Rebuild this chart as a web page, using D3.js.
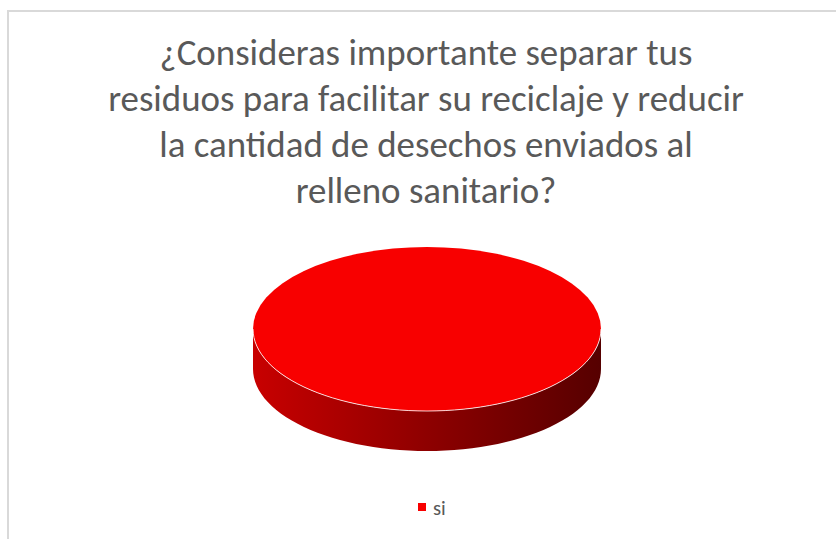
<!DOCTYPE html>
<html>
<head>
<meta charset="utf-8">
<script src="https://cdn.jsdelivr.net/npm/d3@7"></script>
<style>
  body { margin: 0; background: #fff; }
  svg { display: block; }
</style>
</head>
<body>
<div id="chart"></div>
<script>
// Chart data
var categories = ["si"];
var values = [100];
var colors = ["#f80000"];
var titleLines = [
  "¿Consideras importante separar tus",
  "residuos para facilitar su reciclaje y reducir",
  "la cantidad de desechos enviados al",
  "relleno sanitario?"
];

// SVG area
var svgWidth = 836;
var svgHeight = 539;

var svg = d3.select("#chart").append("svg")
  .attr("width", svgWidth)
  .attr("height", svgHeight);

// Outer chart border (runs off the right and bottom edges)
svg.append("rect")
  .attr("x", 8)
  .attr("y", 11)
  .attr("width", 900)
  .attr("height", 600)
  .attr("fill", "#fff")
  .attr("stroke", "#d9d9d9")
  .attr("stroke-width", 2);

// Title
var fontFamily = "Calibri, Carlito, 'Open Sans', 'Noto Sans', sans-serif";
var title = svg.append("g").attr("class", "title");
var titleText = title.selectAll("text")
  .data(titleLines)
  .enter()
  .append("text")
  .attr("x", 426)
  .attr("y", (d, i) => 65 + i * 46)
  .attr("text-anchor", "middle")
  .attr("fill", "#595959")
  .attr("font-family", fontFamily)
  .attr("font-size", 32)
  .text(d => d);

// fit the widest line to the width measured in the picture
var widest = titleText.filter((d, i) => i === 1).node().getComputedTextLength();
var titleSize = 32 * 636 / widest;
titleText.attr("font-size", titleSize);

// 3D pie geometry
var cx = 427, cy = 329, rx = 174, ry = 82, depth = 40;

var pie = d3.pie().sort(null).value(d => d);
var arcs = pie(values);

var defs = svg.append("defs");
var grad = defs.append("linearGradient")
  .attr("id", "sideGrad")
  .attr("gradientUnits", "userSpaceOnUse")
  .attr("x1", cx - rx).attr("x2", cx + rx)
  .attr("y1", 0).attr("y2", 0);
grad.append("stop").attr("offset", "0%").attr("stop-color", "#c80000");
grad.append("stop").attr("offset", "50%").attr("stop-color", "#8e0000");
grad.append("stop").attr("offset", "100%").attr("stop-color", "#560000");

function pt(a, dy) {
  return [cx + rx * Math.sin(a), cy - ry * Math.cos(a) + dy];
}

// side wall for the visible (front) part of a slice
function sidePath(d) {
  var a0 = Math.max(d.startAngle, Math.PI / 2);
  var a1 = Math.min(d.endAngle, 3 * Math.PI / 2);
  if (a1 <= a0) return null;
  var p = d3.path();
  var n = 60, i, q;
  q = pt(a0, 0); p.moveTo(q[0], q[1]);
  for (i = 1; i <= n; i++) { q = pt(a0 + (a1 - a0) * i / n, 0); p.lineTo(q[0], q[1]); }
  for (i = n; i >= 0; i--) { q = pt(a0 + (a1 - a0) * i / n, depth); p.lineTo(q[0], q[1]); }
  p.closePath();
  return p.toString();
}

function frontEdge(d) {
  var a0 = Math.max(d.startAngle, Math.PI / 2);
  var a1 = Math.min(d.endAngle, 3 * Math.PI / 2);
  if (a1 <= a0) return null;
  var p = d3.path(), n = 60, q = pt(a0, 0);
  p.moveTo(q[0], q[1]);
  for (var i = 1; i <= n; i++) { q = pt(a0 + (a1 - a0) * i / n, 0); p.lineTo(q[0], q[1]); }
  return p.toString();
}

var pieGroup = svg.append("g").attr("class", "pie");

pieGroup.selectAll(".side")
  .data(arcs)
  .enter()
  .append("path")
  .attr("class", "side")
  .attr("d", sidePath)
  .attr("fill", "url(#sideGrad)");

// top face: circular arc squashed into an ellipse
var arc = d3.arc().innerRadius(0).outerRadius(rx);
pieGroup.selectAll(".top")
  .data(arcs)
  .enter()
  .append("path")
  .attr("class", "top")
  .attr("transform", `translate(${cx}, ${cy}) scale(1, ${ry / rx})`)
  .attr("d", arc)
  .attr("fill", (d, i) => colors[i]);

// light rim between top and side
pieGroup.selectAll(".rim")
  .data(arcs)
  .enter()
  .append("path")
  .attr("class", "rim")
  .attr("d", frontEdge)
  .attr("fill", "none")
  .attr("stroke", "#ffffff")
  .attr("stroke-opacity", 0.8)
  .attr("stroke-width", 1);

// Legend
var legend = svg.append("g")
  .attr("transform", "translate(418, 503)");

var items = legend.selectAll("g")
  .data(categories)
  .enter()
  .append("g");

items.append("rect")
  .attr("width", 8)
  .attr("height", 8)
  .attr("fill", (d, i) => colors[i]);

items.append("text")
  .attr("x", 15)
  .attr("y", 12)
  .attr("fill", "#595959")
  .attr("font-family", fontFamily)
  .attr("font-size", titleSize * 0.56)
  .text(d => d);
</script>
</body>
</html>
